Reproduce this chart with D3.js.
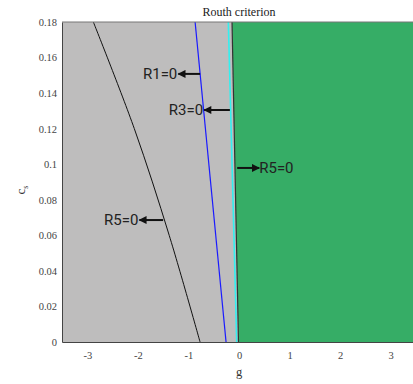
<!DOCTYPE html>
<html>
<head>
<meta charset="utf-8">
<script src="https://cdn.jsdelivr.net/npm/d3@7"></script>
<style>
  html, body { margin: 0; padding: 0; background: #fff; }
  svg { display: block; }
</style>
</head>
<body>
<svg id="chart" width="413" height="384"></svg>
<script>
// axis ticks
const gTicks = [-3, -2, -1, 0, 1, 2, 3];
const cTicks = [0, 0.02, 0.04, 0.06, 0.08, 0.1, 0.12, 0.14, 0.16, 0.18];

// stability boundaries, g value at each c_s
const cR5left = [0, 0.06, 0.12, 0.18];
const gR5left = [-0.77, -1.38, -2.07, -2.88];
const cR1 = [0, 0.18];
const gR1 = [-0.256, -0.868];
const cR3 = [0, 0.18];
const gR3 = [-0.045, -0.211];
const cR5right = [0, 0.18];
const gR5right = [-0.01, -0.138];

// annotations: label, c_s, arrow tail g, arrow head g
const annLabels = ['R1=0', 'R3=0', 'R5=0', 'R5=0'];
const annC = [0.1508, 0.1305, 0.0979, 0.0686];
const annTail = [-0.769, -0.18, -0.036, -1.50];
const annHead = [-1.20, -0.69, 0.40, -1.97];

const serif = "'Liberation Serif', 'Times New Roman', serif";

const svg = d3.select('#chart');
const margin = {top: 22, left: 62, bottom: 42};
const plot_w = 354;
const plot_h = 384 - margin.top - margin.bottom;

const x_scale = d3.scaleLinear().domain([-3.5, 3.5]).range([margin.left, margin.left + plot_w]);
const y_scale = d3.scaleLinear().domain([0, 0.18]).range([margin.top + plot_h, margin.top]);

const defs = svg.append('defs');
defs.append('clipPath').attr('id', 'clip')
  .append('rect')
  .attr('x', margin.left).attr('y', margin.top)
  .attr('width', plot_w).attr('height', plot_h);
defs.append('marker')
  .attr('id', 'arrow')
  .attr('viewBox', '0 0 10 10')
  .attr('refX', 9).attr('refY', 5)
  .attr('markerWidth', 4.2).attr('markerHeight', 4)
  .attr('markerUnits', 'strokeWidth')
  .attr('orient', 'auto')
  .append('path')
  .attr('d', 'M0,0L10,5L0,10z')
  .attr('fill', '#111');

const plot = svg.append('g').attr('clip-path', 'url(#clip)');

// unstable background
plot.append('rect')
  .attr('x', x_scale(-3.5)).attr('y', y_scale(0.18))
  .attr('width', plot_w).attr('height', plot_h)
  .attr('fill', '#bebdbd');

// stable region right of R5 boundary
const stable = cR5right.map((c, i) => [gR5right[i], c]);
const area = d3.area()
  .y(d => y_scale(d[1]))
  .x0(d => x_scale(d[0]))
  .x1(() => x_scale(3.5));
plot.append('path')
  .datum(stable)
  .attr('d', area)
  .attr('fill', '#36ad66');

const line = d3.line()
  .x(d => x_scale(d[0]))
  .y(d => y_scale(d[1]))
  .curve(d3.curveCatmullRom);

function drawCurve(cs, gs, color, width) {
  plot.append('path')
    .datum(cs.map((c, i) => [gs[i], c]))
    .attr('d', line)
    .attr('fill', 'none')
    .attr('stroke', color)
    .attr('stroke-width', width);
}
drawCurve(cR5left, gR5left, '#111', 1);
drawCurve(cR1, gR1, '#1a1aff', 1.2);
drawCurve(cR3, gR3, '#33f0f0', 1.6);
drawCurve(cR5right, gR5right, '#333', 1.2);

// axes
const x_axis = d3.axisBottom(x_scale).tickValues(gTicks).tickSize(0).tickPadding(10)
  .tickFormat(d => String(d));
const y_axis = d3.axisLeft(y_scale).tickValues(cTicks).tickSize(0).tickPadding(5)
  .tickFormat(d => String(d));

function styleAxis(g) {
  g.attr('font-family', null).attr('font-size', null);
  g.select('.domain').attr('stroke', '#444');
  g.selectAll('text')
    .attr('fill', '#444')
    .style('font-family', serif)
    .style('font-size', '10.5px');
}

svg.append('g')
  .attr('transform', 'translate(0,' + (margin.top + plot_h) + ')')
  .call(x_axis)
  .call(styleAxis);

svg.append('g')
  .attr('transform', 'translate(' + margin.left + ',0)')
  .call(y_axis)
  .call(styleAxis);

// top border
svg.append('line')
  .attr('x1', margin.left).attr('x2', margin.left + plot_w)
  .attr('y1', margin.top).attr('y2', margin.top)
  .attr('stroke', '#777');

// annotations
annLabels.forEach((lbl, i) => {
  const y = y_scale(annC[i]);
  const xt = x_scale(annTail[i]);
  const xh = x_scale(annHead[i]);
  svg.append('line')
    .attr('x1', xt).attr('x2', xh)
    .attr('y1', y).attr('y2', y)
    .attr('stroke', '#111').attr('stroke-width', 2)
    .attr('marker-end', 'url(#arrow)');
  const right = xh > xt;
  svg.append('text')
    .attr('x', right ? xh : xh - 1)
    .attr('y', y)
    .attr('dy', '0.36em')
    .attr('text-anchor', right ? 'start' : 'end')
    .attr('fill', '#222')
    .style('font-family', "Roboto, 'Noto Sans', sans-serif")
    .style('font-size', '15px')
    .text(lbl);
});

// title and axis labels
svg.append('text')
  .attr('x', x_scale(0)).attr('y', 16)
  .attr('text-anchor', 'middle')
  .attr('fill', '#222')
  .style('font-family', serif)
  .style('font-size', '12px')
  .text('Routh criterion');

svg.append('text')
  .attr('x', x_scale(0)).attr('y', 376)
  .attr('text-anchor', 'middle')
  .attr('fill', '#333')
  .style('font-family', serif)
  .style('font-size', '12.5px')
  .text('g');

const ylab = svg.append('text')
  .attr('transform', 'translate(25,' + y_scale(0.0855) + ') rotate(-90)')
  .attr('text-anchor', 'middle')
  .attr('fill', '#333')
  .style('font-family', serif)
  .style('font-size', '13px');
ylab.append('tspan').text('c');
ylab.append('tspan').attr('dy', 3).style('font-size', '8px').text('s');
</script>
</body>
</html>
